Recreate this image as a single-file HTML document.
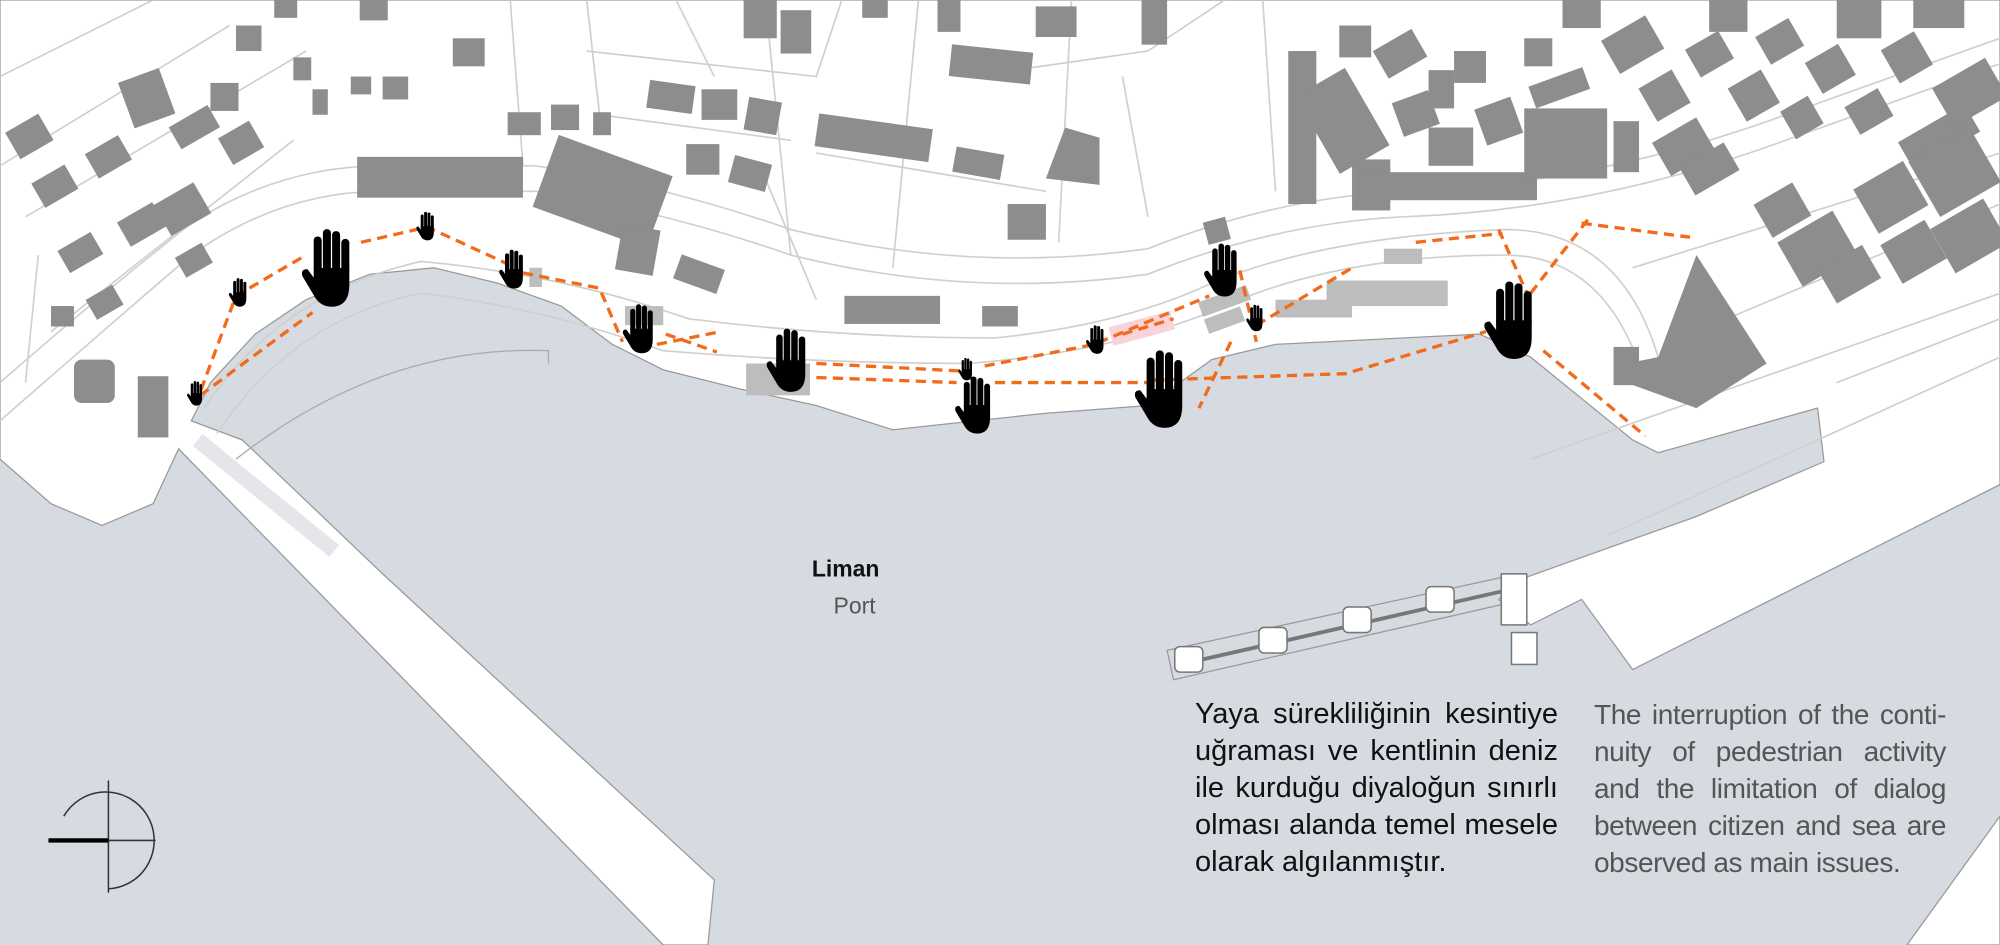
<!DOCTYPE html>
<html><head><meta charset="utf-8"><style>
html,body{margin:0;padding:0}
body{width:2000px;height:945px;overflow:hidden;position:relative;background:#d6dbe1;font-family:"Liberation Sans",sans-serif}
svg{position:absolute;left:0;top:0}
.t{position:absolute;font-family:"Liberation Sans Narrow","Liberation Sans",sans-serif;font-size:29px;line-height:37px}
.t span{display:block;text-align:justify;text-align-last:justify;white-space:nowrap;height:37px}
.t span.l{text-align-last:left}
</style></head><body>
<svg width="2000" height="945" viewBox="0 0 1568 741" preserveAspectRatio="none">
<defs>
<g id="h"><rect x="-7.4" y="-14" width="3.3" height="15" rx="1.6"/><rect x="-3.6" y="-17" width="3.3" height="18" rx="1.6"/><rect x="0.2" y="-16.2" width="3.3" height="17" rx="1.6"/><rect x="4" y="-13" width="3.3" height="14" rx="1.6"/><path d="M-7.4,-1 L7.3,-1 L7.3,6 Q7.3,15 0,15 Q-5,15 -7.5,10 L-12,2.5 Q-13,-0.5 -10,-0.5 L-7.4,3 Z"/></g>
</defs>
<rect width="1568" height="741" fill="#d6dbe1"/>
<path d="M0,0 L1568,0 L1568,380 L1280,525 L1240,470 L1200,490 L1175,470 L1190,455 L1330,405 L1430,362 L1425,320 L1300,355 L1280,345 L1200,280 L1160,262 L1000,270 L950,282 L900,318 L820,324 L700,337 L640,318 L580,305 L520,290 L480,270 L440,240 L390,222 L340,210 L290,215 L240,235 L200,262 L165,300 L150,330 L190,345 L300,450 L560,690 L555,741 L520,741 L140,352 L120,395 L80,412 L40,395 L0,360 Z" fill="#fff" stroke="#9a9a9a" stroke-width="1"/>
<path d="M1495,741 L1568,640 L1568,741 Z" fill="#fff" stroke="#999"/>
<path d="M185,360 Q300,270 430,275 L430,285" fill="none" stroke="#aaa" stroke-width="1"/>
<path d="M155,345 L262,432" stroke="#e4e6e9" stroke-width="12" fill="none"/>
<path d="M915,510 L1190,450 L1195,470 L920,533 Z" fill="none" stroke="#999" stroke-width="1"/>
<path d="M930,520 L1185,462" stroke="#777" stroke-width="3"/>
<g fill="#fff" stroke="#777" stroke-width="1.2"><rect x="921" y="507" width="22" height="20" rx="4"/><rect x="987" y="492" width="22" height="20" rx="4"/><rect x="1053" y="476" width="22" height="20" rx="4"/><rect x="1118" y="460" width="22" height="20" rx="4"/><rect x="1177" y="450" width="20" height="40"/><rect x="1185" y="496" width="20" height="25"/></g>
<g fill="none" stroke="#cfcfcf" stroke-width="1.3">
<path d="M0,330 Q80,260 150,200 Q220,150 300,150 L420,150 Q520,165 620,200 Q760,235 900,215 Q1000,175 1100,170 Q1250,165 1400,110 L1568,50"/>
<path d="M0,300 Q80,230 150,175 Q220,130 300,130 L420,130 Q520,145 620,180 Q760,215 900,195 Q1000,155 1100,150 Q1250,145 1400,90 L1568,30"/>
<path d="M170,340 Q230,250 330,230 Q420,240 520,275 Q640,285 760,285 Q880,275 960,240 Q1050,200 1180,200 Q1260,200 1290,300"/>
<path d="M160,320 Q220,230 330,205 Q440,215 540,250 Q660,265 780,265 Q880,255 950,222 Q1040,185 1180,180 Q1270,180 1300,280"/>
<path d="M0,60 L120,0 M0,130 L180,20 M20,170 L240,40 M40,260 L230,110 M400,0 L410,130 M460,0 L470,90 L620,110 M460,40 L640,60 L660,0 M600,0 L620,200 M720,0 L700,210 M840,0 L830,190 M530,0 L560,60 M640,120 L820,150 M760,60 L900,40 L960,0 M880,60 L900,170 M990,0 L1000,150 M1280,210 L1568,120 M1330,260 L1568,160 M1440,300 L1568,250 M1200,360 L1568,230 M1260,420 L1568,280 M30,200 L20,300 M600,140 L640,235"/>
</g>
<g fill="#8d8d8d">
<rect x="8" y="95" width="30" height="24" transform="rotate(-30 23 107)"/><rect x="28" y="135" width="30" height="22" transform="rotate(-30 43 146)"/><rect x="48" y="188" width="30" height="20" transform="rotate(-30 63 198)"/><rect x="70" y="228" width="24" height="18" transform="rotate(-30 82 237)"/><rect x="40" y="240" width="18" height="16"/><rect x="58" y="282" width="32" height="34" rx="6"/><rect x="108" y="295" width="24" height="48"/><rect x="98" y="58" width="34" height="38" transform="rotate(-20 115 77)"/><rect x="135" y="90" width="35" height="20" transform="rotate(-30 152 100)"/><rect x="125" y="150" width="36" height="28" transform="rotate(-30 143 164)"/><rect x="95" y="165" width="32" height="22" transform="rotate(-30 111 176)"/><rect x="140" y="195" width="24" height="18" transform="rotate(-30 152 204)"/><rect x="70" y="112" width="30" height="22" transform="rotate(-30 85 123)"/><rect x="175" y="100" width="28" height="24" transform="rotate(-30 189 112)"/><rect x="165" y="65" width="22" height="22"/><rect x="185" y="20" width="20" height="20"/><rect x="215" y="0" width="18" height="14"/><rect x="230" y="45" width="14" height="18"/><rect x="245" y="70" width="12" height="20"/><rect x="275" y="60" width="16" height="14"/><rect x="300" y="60" width="20" height="18"/><rect x="282" y="0" width="22" height="16"/><rect x="355" y="30" width="25" height="22"/><rect x="398" y="88" width="26" height="18"/><rect x="432" y="82" width="22" height="20"/><rect x="465" y="88" width="14" height="18"/><rect x="508" y="65" width="36" height="22" transform="rotate(8 526 76)"/><rect x="550" y="70" width="28" height="24"/><rect x="585" y="78" width="26" height="26" transform="rotate(10 598 91)"/><rect x="583" y="0" width="26" height="30"/><rect x="612" y="8" width="24" height="34"/><rect x="538" y="113" width="26" height="24"/><rect x="573" y="125" width="30" height="22" transform="rotate(15 588 136)"/><rect x="280" y="123" width="130" height="32"/><rect x="425" y="120" width="95" height="60" transform="rotate(20 472 150)"/><rect x="485" y="178" width="30" height="36" transform="rotate(10 500 196)"/><rect x="530" y="205" width="36" height="20" transform="rotate(20 548 215)"/><rect x="640" y="95" width="90" height="26" transform="rotate(8 685 108)"/><rect x="748" y="118" width="38" height="20" transform="rotate(10 767 128)"/><path d="M820,140 L835,100 L862,108 L862,145 Z"/><rect x="745" y="38" width="64" height="25" transform="rotate(6 777 50)"/><rect x="790" y="160" width="30" height="28"/><rect x="662" y="232" width="75" height="22"/><rect x="770" y="240" width="28" height="16"/><rect x="735" y="0" width="18" height="25"/><rect x="676" y="0" width="20" height="14"/><rect x="895" y="0" width="20" height="35"/><rect x="812" y="5" width="32" height="24"/><rect x="945" y="172" width="18" height="18" transform="rotate(-15 954 181)"/>
<rect x="1010" y="40" width="22" height="120"/><rect x="1030" y="60" width="45" height="70" transform="rotate(-30 1052 95)"/><rect x="1060" y="125" width="30" height="40"/><rect x="1050" y="20" width="25" height="25"/><rect x="1080" y="30" width="35" height="25" transform="rotate(-30 1097 42)"/><rect x="1095" y="75" width="30" height="28" transform="rotate(-20 1110 89)"/><rect x="1120" y="100" width="35" height="30"/><rect x="1065" y="135" width="140" height="22"/><rect x="1120" y="55" width="20" height="30"/><rect x="1140" y="40" width="25" height="25"/><rect x="1160" y="80" width="30" height="30" transform="rotate(-20 1175 95)"/><rect x="1195" y="85" width="65" height="55"/><rect x="1195" y="30" width="22" height="22"/><rect x="1200" y="60" width="45" height="18" transform="rotate(-20 1222 69)"/><rect x="1225" y="0" width="30" height="22"/><rect x="1260" y="20" width="40" height="30" transform="rotate(-30 1280 35)"/><rect x="1265" y="95" width="20" height="40"/><rect x="1290" y="60" width="30" height="30" transform="rotate(-30 1305 75)"/><rect x="1300" y="100" width="40" height="30" transform="rotate(-30 1320 115)"/><rect x="1325" y="30" width="30" height="25" transform="rotate(-30 1340 42)"/><rect x="1340" y="0" width="30" height="25"/><rect x="1360" y="60" width="30" height="30" transform="rotate(-30 1375 75)"/><rect x="1380" y="20" width="30" height="25" transform="rotate(-30 1395 32)"/><rect x="1400" y="80" width="25" height="25" transform="rotate(-30 1412 92)"/><rect x="1420" y="40" width="30" height="28" transform="rotate(-30 1435 54)"/><rect x="1440" y="0" width="35" height="30"/><rect x="1450" y="75" width="30" height="25" transform="rotate(-30 1465 87)"/><rect x="1480" y="30" width="30" height="30" transform="rotate(-30 1495 45)"/><rect x="1500" y="0" width="40" height="22"/><rect x="1490" y="95" width="60" height="25" transform="rotate(-30 1520 107)"/><rect x="1520" y="55" width="48" height="35" transform="rotate(-30 1544 72)"/><rect x="1380" y="150" width="35" height="30" transform="rotate(-30 1397 165)"/><rect x="1400" y="175" width="50" height="40" transform="rotate(-30 1425 195)"/><rect x="1430" y="200" width="40" height="30" transform="rotate(-30 1450 215)"/><rect x="1460" y="135" width="45" height="40" transform="rotate(-30 1482 155)"/><rect x="1480" y="180" width="40" height="35" transform="rotate(-30 1500 197)"/><rect x="1505" y="110" width="55" height="50" transform="rotate(-30 1532 135)"/><rect x="1520" y="165" width="48" height="40" transform="rotate(-30 1544 185)"/><rect x="1320" y="120" width="40" height="25" transform="rotate(-30 1340 132)"/><path d="M1300,280 L1330,200 L1385,285 L1330,320 L1275,300 L1275,285 Z"/><rect x="1265" y="272" width="20" height="30"/>
</g>
<g fill="#bdbdbd"><rect x="1040" y="220" width="95" height="20"/><rect x="1000" y="235" width="60" height="14"/><rect x="1085" y="195" width="30" height="12"/><rect x="940" y="230" width="40" height="12" transform="rotate(-20 960 236)"/><rect x="945" y="245" width="30" height="12" transform="rotate(-20 960 251)"/><rect x="585" y="285" width="50" height="25"/><rect x="490" y="240" width="30" height="15"/><rect x="415" y="210" width="10" height="15"/></g>
<rect x="870" y="250" width="50" height="15" fill="#f9d3d9" transform="rotate(-15 895 257)"/>
<g fill="none" stroke="#f26a1b" stroke-width="2.6" stroke-dasharray="8,5">
<path d="M153,318 L185,232 L240,200"/><path d="M157,310 L245,245"/><path d="M283,190 L335,178 L398,207"/><path d="M410,214 L470,226 L488,268"/><path d="M515,270 L565,260"/><path d="M522,262 L562,276"/><path d="M640,285 L755,291"/><path d="M640,296 L750,300"/><path d="M780,300 L905,300"/><path d="M772,287 L858,270 L948,232"/><path d="M880,262 L920,250"/><path d="M972,212 L985,268"/><path d="M985,255 L1060,210"/><path d="M905,298 L1055,293 L1165,260"/><path d="M965,268 L940,320"/><path d="M1110,190 L1178,183"/><path d="M1175,180 L1198,232"/><path d="M1200,230 L1245,172"/><path d="M1240,175 L1325,186"/><path d="M1210,275 L1290,342"/>
</g>
<g fill="#000">
<use href="#h" transform="translate(154,309) scale(0.6)"/>
<use href="#h" transform="translate(188,230) scale(0.7)"/>
<use href="#h" transform="translate(260,212) scale(1.9)"/>
<use href="#h" transform="translate(335,178) scale(0.7)"/>
<use href="#h" transform="translate(403,212) scale(0.95)"/>
<use href="#h" transform="translate(503,259) scale(1.2)"/>
<use href="#h" transform="translate(620,284) scale(1.55)"/>
<use href="#h" transform="translate(758,290) scale(0.55)"/>
<use href="#h" transform="translate(766,319) scale(1.4)"/>
<use href="#h" transform="translate(860,267) scale(0.7)"/>
<use href="#h" transform="translate(913,307) scale(1.9)"/>
<use href="#h" transform="translate(960,213) scale(1.3)"/>
<use href="#h" transform="translate(985,250) scale(0.65)"/>
<use href="#h" transform="translate(1187,253) scale(1.9)"/>
</g>
<g fill="none" stroke="#333" stroke-width="1.2">
<path d="M50,640 A38,38 0 1,1 85,697"/>
<line x1="85" y1="612" x2="85" y2="700"/>
<line x1="38" y1="659" x2="122" y2="659"/>
</g>
<line x1="38" y1="659" x2="85" y2="659" stroke="#000" stroke-width="3.5"/>
<text x="663" y="452" font-family="Liberation Sans, sans-serif" font-size="18" font-weight="bold" fill="#111" text-anchor="middle">Liman</text>
<text x="670" y="481" font-family="Liberation Sans, sans-serif" font-size="18" fill="#555" text-anchor="middle">Port</text>
</svg>
<div class="t" style="left:1195px;top:696px;width:363px;color:#111"><span>Yaya sürekliliğinin kesintiye</span><span>uğraması ve kentlinin deniz</span><span>ile kurduğu diyaloğun sınırlı</span><span>olması alanda temel mesele</span><span class="l">olarak algılanmıştır.</span></div>
<div class="t" style="left:1594px;top:696px;width:352px;color:#555;font-size:28px;letter-spacing:-0.4px"><span>The interruption of the conti-</span><span>nuity of pedestrian activity</span><span>and the limitation of dialog</span><span>between citizen and sea are</span><span class="l">observed as main issues.</span></div>
</body></html>
